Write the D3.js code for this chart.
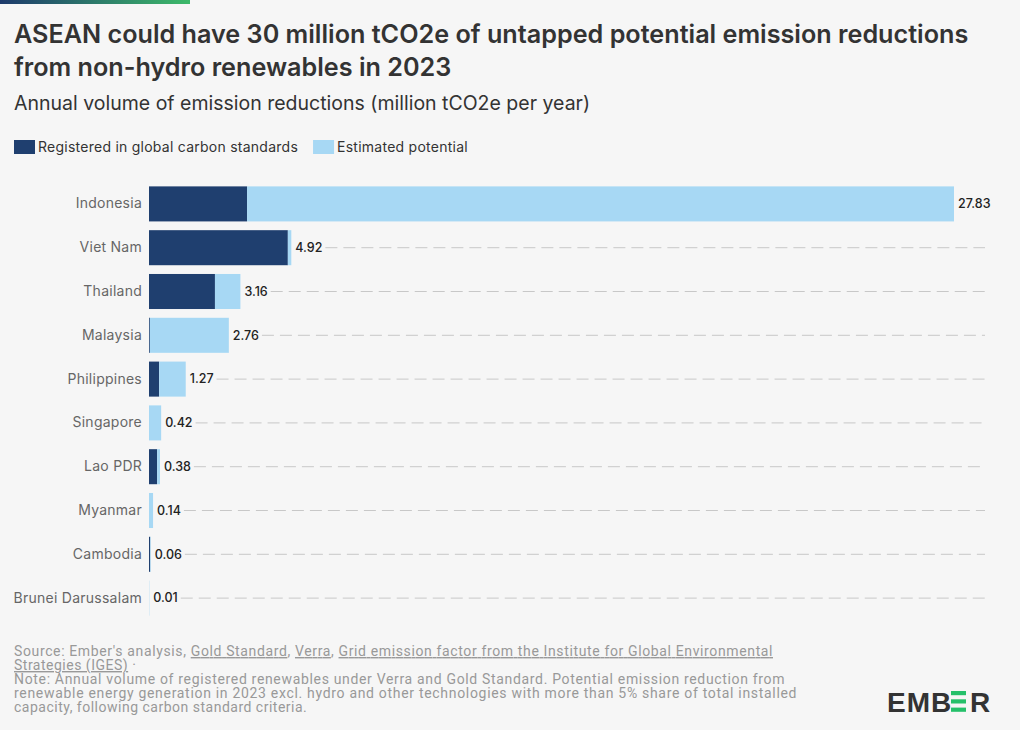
<!DOCTYPE html>
<html><head><meta charset="utf-8">
<script src="https://cdn.jsdelivr.net/npm/d3@7"></script>
<style>
body{margin:0;background:#f6f6f6;}
svg{display:block;}
</style></head>
<body>
<svg id="chart" width="1020" height="730"></svg>
<script>
const countries = ["Indonesia","Viet Nam","Thailand","Malaysia","Philippines","Singapore","Lao PDR","Myanmar","Cambodia","Brunei Darussalam"];
const registered = [3.39, 4.80, 2.28, 0.03, 0.35, 0.00, 0.28, 0.00, 0.04, 0.00];
const potential  = [24.44, 0.12, 0.88, 2.73, 0.92, 0.42, 0.10, 0.14, 0.02, 0.01];
const totals     = ["27.83","4.92","3.16","2.76","1.27","0.42","0.38","0.14","0.06","0.01"];
const seriesNames = ["Registered in global carbon standards","Estimated potential"];
const colors = ["#1f3f6f","#a7d8f4"];

const svg = d3.select("#chart");
svg.append("rect").attr("width",1020).attr("height",730).attr("fill","#f6f6f6");

const grad = svg.append("defs").append("linearGradient").attr("id","topg");
grad.append("stop").attr("offset","0%").attr("stop-color","#1d3a6b");
grad.append("stop").attr("offset","100%").attr("stop-color","#3dba6a");
svg.append("rect").attr("x",0).attr("y",0).attr("width",190).attr("height",4).attr("fill","url(#topg)");

const titleFont = "Inter, 'Noto Sans', sans-serif";
svg.append("text").attr("x",14).attr("y",43).attr("font-family",titleFont).attr("font-weight",600)
  .attr("font-size",25.2).attr("fill","#333").text("ASEAN could have 30 million tCO2e of untapped potential emission reductions");
svg.append("text").attr("x",14).attr("y",76).attr("font-family",titleFont).attr("font-weight",600)
  .attr("font-size",25.2).attr("fill","#333").text("from non-hydro renewables in 2023");
svg.append("text").attr("x",14).attr("y",110).attr("font-family",titleFont).attr("font-weight",400)
  .attr("font-size",19.5).attr("fill","#333").text("Annual volume of emission reductions (million tCO2e per year)");

// legend
const lg = svg.append("g");
let lx = 14;
seriesNames.forEach((n,i)=>{
  lg.append("rect").attr("x",lx).attr("y",140).attr("width",21).attr("height",14).attr("fill",colors[i]);
  const t = lg.append("text").attr("x",lx+24).attr("y",151.5).attr("font-family",titleFont)
    .attr("font-size",14).attr("letter-spacing",0.25).attr("fill","#333").text(n);
  lx += 24 + t.node().getComputedTextLength() + 15;
});

const x = d3.scaleLinear().domain([0,27.83]).range([149,954]);
const y = d3.scaleBand().domain(countries).range([182,620]).paddingInner(0.2).paddingOuter(0.1);

const data = countries.map((c,i)=>({c, r:registered[i], p:potential[i], t:totals[i]}));
const stack = d3.stack().keys(["r","p"])(data);

// y axis labels
const yAxis = d3.axisLeft(y).tickSize(0).tickPadding(7);
const ya = svg.append("g").attr("transform","translate(149,0)").call(yAxis);
ya.select(".domain").remove();
ya.selectAll("text").attr("font-family",titleFont).attr("font-size",14).attr("letter-spacing",0.25).attr("fill","#666");

// gridlines + labels
const lab = svg.append("g");
data.forEach(d=>{
  const end = x(d.r + d.p);
  const cy = y(d.c) + y.bandwidth()/2;
  const t = lab.append("text").attr("x",end+4).attr("y",cy).attr("dy","0.35em")
    .attr("font-family",titleFont).attr("font-size",12.5).attr("font-weight",500).attr("fill","#222").text(d.t);
  const w = t.node().getComputedTextLength();
  if (end + w + 10 < 985) {
    lab.append("line").attr("x1",end+w+7).attr("x2",985).attr("y1",cy).attr("y2",cy)
      .attr("stroke","#c8c8c8").attr("stroke-width",1).attr("stroke-dasharray","12,6");
  }
});

stack.forEach((s,i)=>{
  svg.append("g").attr("fill",colors[i]).selectAll("rect").data(s).join("rect")
    .attr("x",d=>x(d[0])).attr("width",d=>Math.max(0,x(d[1])-x(d[0])))
    .attr("y",d=>y(d.data.c)).attr("height",y.bandwidth());
});

// footer
const ff = "Roboto, 'Liberation Sans', sans-serif";
const foot = svg.append("g").attr("font-family",ff).attr("font-size",14).attr("letter-spacing",0.5).attr("fill","#999");
const l1 = foot.append("text").attr("x",14).attr("y",656).attr("textLength",759).attr("lengthAdjust","spacing");
l1.append("tspan").text("Source: Ember's analysis, ");
l1.append("tspan").attr("text-decoration","underline").text("Gold Standard");
l1.append("tspan").text(", ");
l1.append("tspan").attr("text-decoration","underline").text("Verra");
l1.append("tspan").text(", ");
l1.append("tspan").attr("text-decoration","underline").text("Grid emission factor from the Institute for Global Environmental");
const l2 = foot.append("text").attr("x",14).attr("y",670);
l2.append("tspan").attr("text-decoration","underline").text("Strategies (IGES)");
l2.append("tspan").text(" ·");
foot.append("text").attr("x",14).attr("y",684).attr("textLength",771).attr("lengthAdjust","spacing").text("Note: Annual volume of registered renewables under Verra and Gold Standard. Potential emission reduction from");
foot.append("text").attr("x",14).attr("y",698).attr("textLength",783).attr("lengthAdjust","spacing").text("renewable energy generation in 2023 excl. hydro and other technologies with more than 5% share of total installed");
foot.append("text").attr("x",14).attr("y",712).text("capacity, following carbon standard criteria.");

// logo
const logo = svg.append("g").attr("font-family","'Liberation Sans', Arial, sans-serif").attr("font-weight",700).attr("font-size",28).attr("fill","#333");
logo.append("text").attr("x",887).attr("y",712).attr("letter-spacing",1).text("EMB");
const ex = 951;
[0,1,2].forEach(k=>{
  svg.append("rect").attr("x",ex).attr("y",691+k*8.3).attr("width",15).attr("height",4.2).attr("fill","#25c06a");
});
logo.append("text").attr("x",970).attr("y",712).text("R");
</script>
</body></html>
